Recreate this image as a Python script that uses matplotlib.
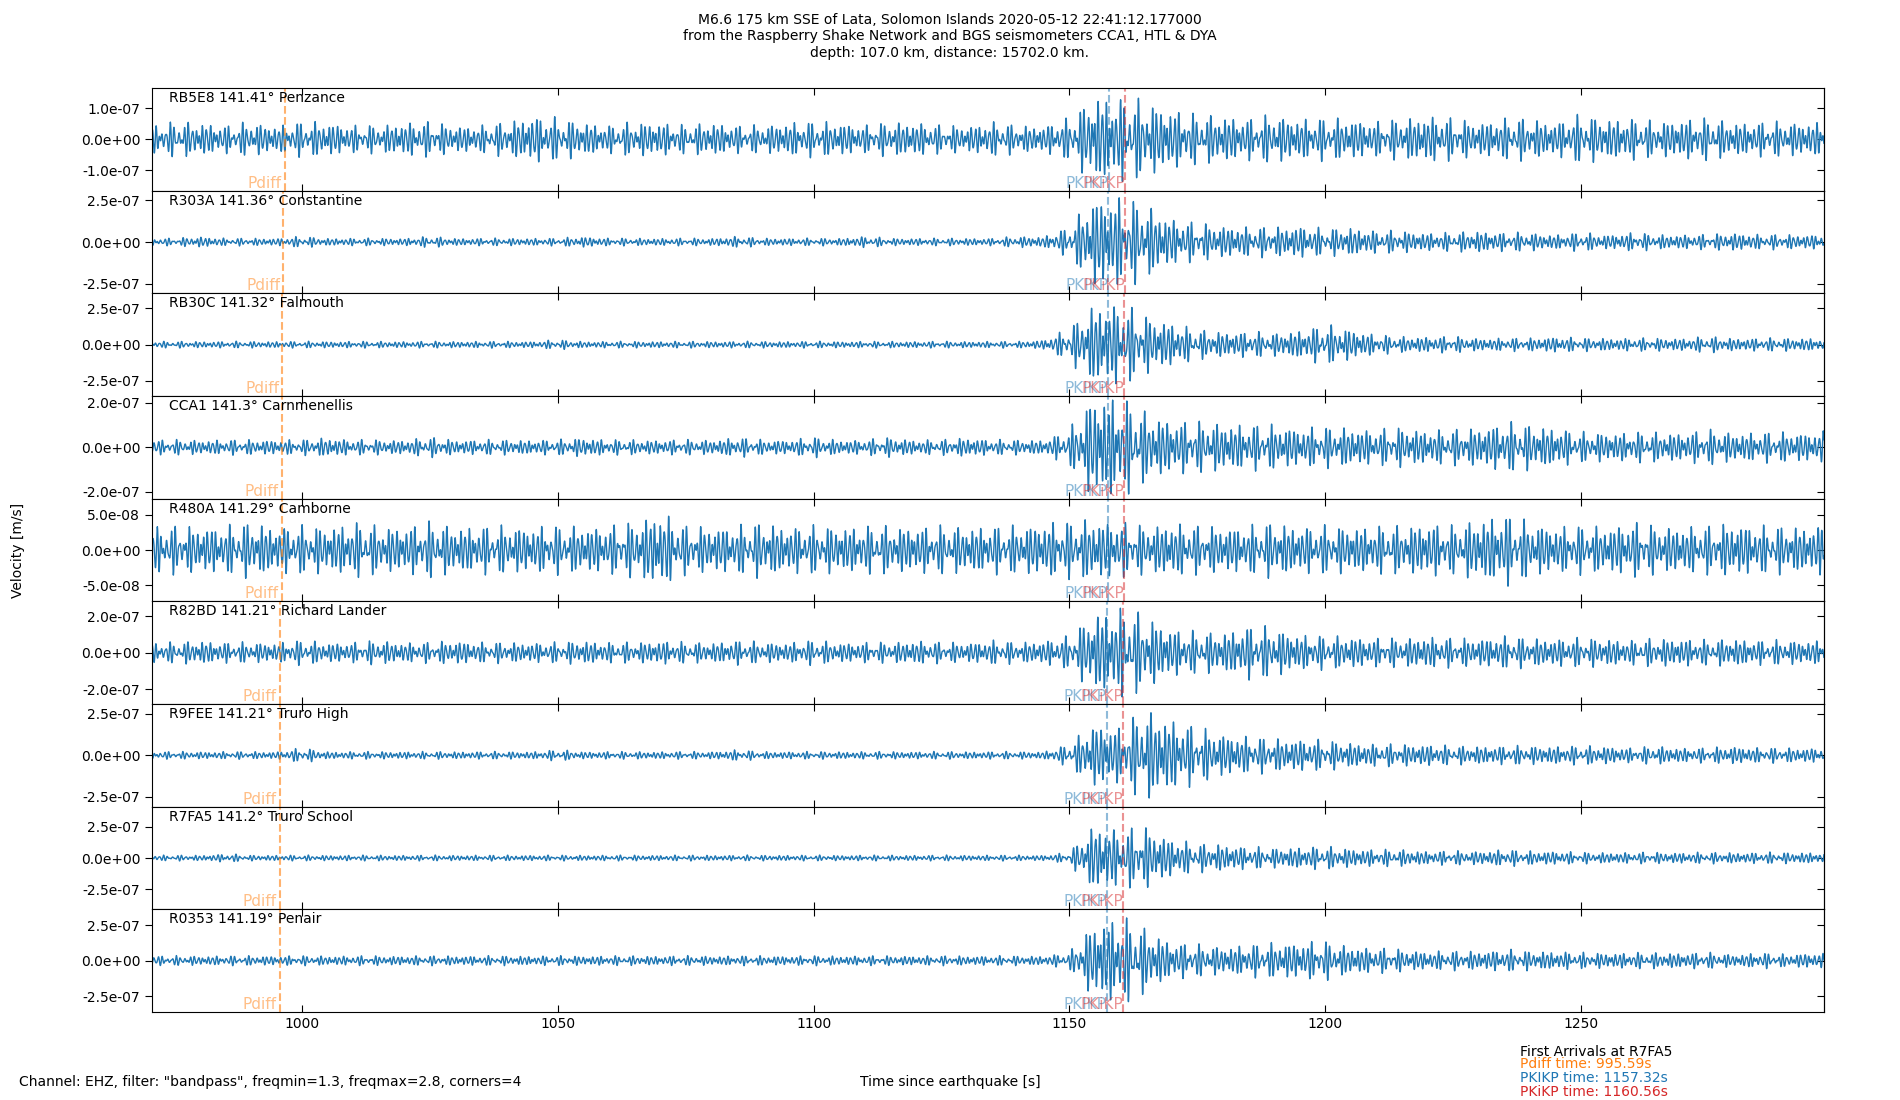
import numpy as np
import matplotlib
matplotlib.use("Agg")
import matplotlib.pyplot as plt
from matplotlib.ticker import FormatStrFormatter

# --- stations (top to bottom) ---
stations = ["RB5E8", "R303A", "RB30C", "CCA1", "R480A", "R82BD", "R9FEE", "R7FA5", "R0353"]
distances = [141.41, 141.36, 141.32, 141.3, 141.29, 141.21, 141.21, 141.2, 141.19]
places = ["Penzance", "Constantine", "Falmouth", "Carnmenellis", "Camborne",
          "Richard Lander", "Truro High", "Truro School", "Penair"]

# arrival times per station [s]
pdiff_t = [996.52, 996.30, 996.12, 996.03, 995.99, 995.63, 995.63, 995.59, 995.55]
pkikp_t = [1157.72, 1157.62, 1157.54, 1157.50, 1157.48, 1157.34, 1157.34, 1157.32, 1157.30]
pkikp2_t = [1160.98, 1160.86, 1160.78, 1160.74, 1160.72, 1160.58, 1160.58, 1160.56, 1160.54]

# y tick value and y limit per panel [m/s]
ytick_val = [1.0e-7, 2.5e-7, 2.5e-7, 2.0e-7, 5.0e-8, 2.0e-7, 2.5e-7, 2.5e-7, 2.5e-7]
ylims = [1.66e-7, 3.09e-7, 3.54e-7, 2.3e-7, 7.24e-8, 2.8e-7, 3.1e-7, 4.1e-7, 3.6e-7]

# peak amplitude envelope, every 5 s from 970 s, units of 1e-8 m/s
env_t = np.arange(970, 1301, 5)
env = [
    [4, 5, 5, 4, 5, 4, 5, 5, 4, 4, 5, 5, 4, 4, 5, 7, 6, 5, 4, 5, 5, 4, 5, 4, 4, 5, 5, 5, 4, 5, 5, 4, 4, 5, 4, 4,
     6, 13, 12, 11, 9, 7, 7, 6, 7, 6, 6, 6, 5, 6, 7, 6, 5, 6, 6, 5, 7, 6, 6, 5, 6, 6, 5, 5, 5, 5, 5],
    [2, 2, 3, 2, 2, 2, 3, 2, 2, 2, 2, 3, 2, 2, 2, 2, 2, 3, 2, 2, 2, 2, 2, 3, 2, 2, 2, 2, 3, 2, 2, 2, 2, 2, 3, 3,
     8, 25, 24, 20, 13, 10, 9, 8, 8, 9, 7, 8, 6, 6, 5, 5, 6, 5, 5, 4, 5, 4, 5, 4, 4, 4, 5, 4, 4, 4, 4],
    [2, 2, 2, 2, 2, 2, 2, 2, 2, 2, 2, 2, 2, 2, 2, 2, 3, 2, 2, 2, 2, 2, 2, 2, 2, 2, 2, 2, 2, 2, 2, 2, 2, 2, 2, 3,
     10, 26, 25, 18, 14, 9, 8, 8, 7, 9, 12, 10, 6, 5, 5, 5, 4, 4, 4, 5, 4, 4, 4, 4, 4, 5, 4, 4, 4, 4, 4],
    [3, 3, 3, 3, 3, 3, 3, 4, 3, 3, 3, 4, 3, 3, 3, 3, 3, 4, 3, 3, 3, 3, 3, 4, 3, 3, 4, 3, 3, 4, 3, 3, 4, 3, 3, 3,
     7, 22, 20, 14, 11, 10, 10, 9, 9, 8, 8, 8, 7, 8, 7, 7, 8, 10, 9, 8, 6, 6, 6, 6, 6, 7, 6, 6, 6, 6, 7],
    [3, 3, 3, 3, 3.5, 3, 3, 3, 3.5, 3, 3, 3.5, 3, 3, 3, 3, 3, 3, 3, 3.5, 5, 3, 3, 3, 3.5, 3, 3, 3, 3, 3, 3, 3, 3,
     3, 3, 3.5,
     3.5, 4, 3.5, 3, 3.5, 3, 3, 3, 3.5, 3, 3, 3, 3, 3, 3.5, 3, 4, 4.5, 3.5, 3, 3, 3, 3.5, 3, 3, 3, 3.5, 3, 3, 3, 3.5],
    [5, 5, 6, 5, 5, 5, 6, 5, 5, 6, 5, 5, 6, 5, 5, 5, 5, 6, 5, 5, 6, 5, 5, 6, 5, 5, 6, 5, 5, 5, 6, 5, 5, 6, 5, 6,
     8, 20, 22, 18, 12, 10, 10, 13, 12, 9, 8, 8, 7, 7, 8, 7, 7, 8, 7, 7, 7, 7, 6, 7, 7, 6, 7, 6, 6, 6, 6],
    [2, 2, 2, 2, 2, 2, 4, 2, 2, 2, 2, 2, 2, 2, 2, 2, 3, 2, 2, 2, 2, 2, 2, 3, 2, 2, 2, 2, 2, 2, 2, 2, 2, 2, 2, 2,
     6, 18, 15, 25, 20, 15, 12, 10, 9, 9, 8, 7, 6, 6, 6, 5, 5, 5, 5, 5, 5, 5, 4, 5, 4, 4, 5, 4, 4, 4, 4],
    [2, 2, 2, 3, 2, 2, 2, 2, 2, 2, 2, 2, 2, 2, 2, 2, 2, 2, 2, 2, 2, 2, 2, 2, 2, 2, 2, 2, 2, 2, 2, 2, 2, 2, 2, 2,
     4, 25, 20, 22, 14, 10, 10, 8, 7, 8, 8, 7, 6, 6, 5, 5, 5, 6, 5, 5, 4, 4, 4, 4, 4, 4, 4, 4, 4, 4, 4],
    [3, 3, 3, 3, 3, 3, 3, 3, 3, 3, 3, 3, 3, 3, 3, 3, 3, 3, 3, 3, 3, 3, 3, 3, 3, 3, 3, 3, 3, 3, 3, 3, 3, 3, 3, 3,
     5, 25, 28, 20, 12, 10, 9, 10, 11, 12, 12, 9, 8, 7, 6, 6, 6, 7, 6, 6, 5, 5, 5, 5, 5, 5, 4, 5, 4, 5, 4],
]

t = np.arange(970.6, 1297.6, 0.02)
freqs = [1.13, 1.41, 1.77]
weights = [1.0, 0.8, 0.6]

fig = plt.figure(figsize=(19, 11), dpi=100)
axes = fig.subplots(len(stations), 1, sharex=True)
fig.subplots_adjust(left=0.08, right=0.96, top=0.92, bottom=0.08, hspace=0)

for i, ax in enumerate(axes):
    # band-limited carrier shaped by the read envelope
    carrier = sum(w * np.cos(2 * np.pi * f * t + (i + 1) * (k + 1) * 1.3)
                  for k, (f, w) in enumerate(zip(freqs, weights)))
    carrier /= 2.0
    trace = np.interp(t, env_t, env[i]) * 1e-8 * carrier
    ax.plot(t, trace, color="C0", lw=1.0)

    ax.axvline(pdiff_t[i], color="C1", ls="--", lw=1.5, alpha=0.6)
    ax.axvline(pkikp_t[i], color="C0", ls="--", lw=1.5, alpha=0.5)
    ax.axvline(pkikp2_t[i], color="C3", ls="--", lw=1.5, alpha=0.5)
    xt = ax.get_xaxis_transform()
    ax.text(pdiff_t[i] - 0.6, 0.0, "Pdiff", color="C1", alpha=0.5, fontsize=11,
            ha="right", va="bottom", transform=xt)
    ax.text(pkikp_t[i], 0.0, "PKIKP", color="C0", alpha=0.5, fontsize=11,
            ha="right", va="bottom", transform=xt)
    ax.text(pkikp2_t[i], 0.0, "PKiKP", color="C3", alpha=0.5, fontsize=11,
            ha="right", va="bottom", transform=xt)

    ax.text(0.01, 0.97, f"{stations[i]} {distances[i]}° {places[i]}",
            transform=ax.transAxes, ha="left", va="top", fontsize=10)

    yv = ytick_val[i]
    ax.set_ylim(-ylims[i], ylims[i])
    ax.set_yticks([-yv, 0, yv])
    ax.yaxis.set_major_formatter(FormatStrFormatter("%.1e"))
    ax.tick_params(axis="y", direction="out", length=5)
    sec = ax.secondary_yaxis("right")
    sec.set_yticks([-yv, 0, yv])
    sec.tick_params(axis="y", direction="in", labelright=False, length=5)
    ax.tick_params(axis="x", direction="in", top=True, bottom=True, length=5)

axes[-1].set_xlim(970.6, 1297.6)
axes[-1].set_xticks([1000, 1050, 1100, 1150, 1200, 1250])

fig.text(0.5, 0.988,
         "M6.6 175 km SSE of Lata, Solomon Islands 2020-05-12 22:41:12.177000\n"
         "from the Raspberry Shake Network and BGS seismometers CCA1, HTL & DYA\n"
         "depth: 107.0 km, distance: 15702.0 km.",
         ha="center", va="top", fontsize=10)
fig.text(0.0095, 0.5, "Velocity [m/s]", rotation=90, ha="center", va="center", fontsize=10)
fig.text(0.5, 0.0166, "Time since earthquake [s]", ha="center", va="center", fontsize=10)
fig.text(0.01, 0.0166, 'Channel: EHZ, filter: "bandpass", freqmin=1.3, freqmax=2.8, corners=4',
         ha="left", va="center", fontsize=10)
fig.text(0.8, 0.0436, "First Arrivals at R7FA5", ha="left", va="center", fontsize=10)
fig.text(0.8, 0.0327, "Pdiff time: 995.59s", color="C1", ha="left", va="center", fontsize=10)
fig.text(0.8, 0.0200, "PKIKP time: 1157.32s", color="C0", ha="left", va="center", fontsize=10)
fig.text(0.8, 0.0073, "PKiKP time: 1160.56s", color="C3", ha="left", va="center", fontsize=10)

fig.savefig("out.png", dpi=100)
